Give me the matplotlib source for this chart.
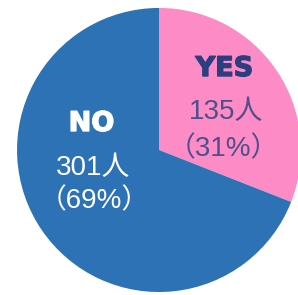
import matplotlib.pyplot as plt
import matplotlib.patheffects as pe

labels = ["YES", "NO"]
counts = [135, 301]
percents = [31, 69]
colors = ["#fd8bc6", "#2e72b6"]

plt.rcParams["font.family"] = ["Liberation Sans", "Noto Sans CJK JP", "DejaVu Sans"]

fig = plt.figure(figsize=(2.98, 2.95), dpi=100)
ax = fig.add_axes([0, 0, 1, 1])

ax.pie(counts, colors=colors, startangle=90, counterclock=False,
       radius=1.0, wedgeprops={"linewidth": 0})

# pie centre sits at pixel (159, 150), radius about 142 px
ax.set_xlim(-1.12, 0.979)
ax.set_ylim(-1.021, 1.056)
ax.set_aspect("auto")
ax.axis("off")

head = dict(ha="center", va="baseline", fontsize=19.5, fontweight="bold",
            family="DejaVu Sans")
body = dict(ha="center", va="baseline", fontsize=20)

# YES label
yes_col = "#2b3e80"
ax.text(0.461, 0.521, labels[0], color=yes_col,
        path_effects=[pe.withStroke(linewidth=1.0, foreground=yes_col)], **head)
ax.text(0.472, 0.218, f"{counts[0]}人", color="#4f4f8c", **body)
ax.text(0.454, -0.042, f"（{percents[0]}%）", color="#4f4f8c", **body)

# NO label
ax.text(-0.475, 0.134, labels[1], color="white",
        path_effects=[pe.withStroke(linewidth=1.0, foreground="white")], **head)
ax.text(-0.468, -0.176, f"{counts[1]}人", color="white", **body)
ax.text(-0.458, -0.408, f"（{percents[1]}%）", color="white", **body)

fig.savefig("out.png", dpi=100)
